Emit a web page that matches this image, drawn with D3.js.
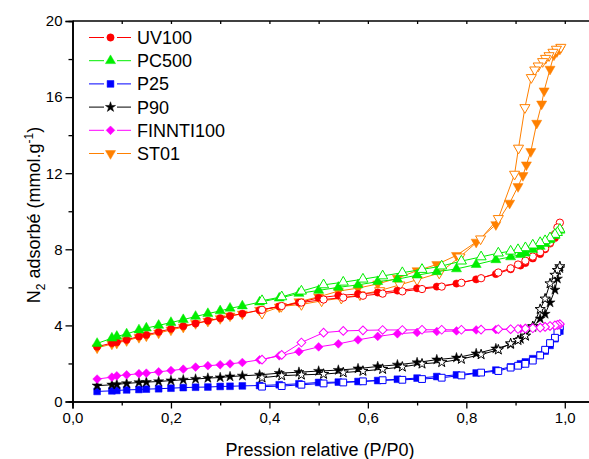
<!DOCTYPE html>
<html><head><meta charset="utf-8">
<script src="https://cdn.jsdelivr.net/npm/d3@7"></script>
<style>
html,body{margin:0;padding:0;background:#fff;}
text{font-family:"Liberation Sans",Arial,sans-serif;}
</style></head>
<body><svg id="c" width="589" height="459"></svg>
<script>
// ---- DATA ----
const seriesNames = ["UV100","PC500","P25","P90","FINNTI100","ST01"];
const seriesColors = ["#ff0000","#00ee00","#0000ff","#000000","#ff00ff","#ff8000"];
const xTickLabels = ["0,0","0,2","0,4","0,6","0,8","1,0"];
const yTickLabels = ["0","4","8","12","16","20"];

const uv100Ads = [[0.05,2.88],[0.08,3.07],[0.09,3.12],[0.11,3.24],[0.135,3.42],[0.15,3.5],[0.175,3.66],[0.2,3.82],[0.225,3.96],[0.25,4.1],[0.275,4.25],[0.3,4.38],[0.32,4.5],[0.345,4.62],[0.38,4.8],[0.42,5.0],[0.46,5.2],[0.5,5.45],[0.54,5.57],[0.58,5.65],[0.62,5.73],[0.66,5.83],[0.7,5.95],[0.74,6.04],[0.78,6.2],[0.82,6.42],[0.86,6.7],[0.89,6.95],[0.91,7.15],[0.92,7.28],[0.935,7.52],[0.95,7.75],[0.96,8.0],[0.97,8.3],[0.98,8.6],[0.99,9.0]];
const uv100Des = [[0.99,9.4],[0.985,9.15],[0.98,8.8],[0.97,8.35],[0.96,8.05],[0.95,7.85],[0.935,7.62],[0.92,7.4],[0.905,7.2],[0.89,7.0],[0.865,6.78],[0.83,6.48],[0.79,6.24],[0.75,6.04],[0.71,5.91],[0.67,5.79],[0.63,5.67],[0.59,5.56],[0.55,5.46],[0.51,5.36],[0.465,5.2],[0.425,5.02],[0.385,4.82]];

const pc500Ads = [[0.05,3.05],[0.08,3.33],[0.09,3.42],[0.11,3.55],[0.135,3.76],[0.15,3.86],[0.175,4.0],[0.2,4.15],[0.225,4.3],[0.25,4.47],[0.275,4.62],[0.3,4.76],[0.32,4.9],[0.345,5.02],[0.38,5.22],[0.42,5.43],[0.46,5.68],[0.5,5.84],[0.54,6.0],[0.58,6.13],[0.62,6.3],[0.66,6.43],[0.7,6.64],[0.74,6.82],[0.78,6.97],[0.82,7.2],[0.86,7.45],[0.89,7.6],[0.91,7.72],[0.92,7.8],[0.935,7.98],[0.95,8.15],[0.96,8.3],[0.97,8.5],[0.98,8.72],[0.99,9.0]];
const pc500Des = [[0.99,9.05],[0.985,8.88],[0.98,8.78],[0.97,8.6],[0.96,8.45],[0.95,8.35],[0.935,8.22],[0.92,8.08],[0.905,7.98],[0.89,7.9],[0.865,7.8],[0.83,7.6],[0.79,7.38],[0.75,7.12],[0.71,6.94],[0.67,6.77],[0.63,6.6],[0.59,6.43],[0.55,6.27],[0.51,6.13],[0.465,5.8],[0.425,5.5],[0.385,5.3]];

const p25Ads = [[0.05,0.53],[0.08,0.56],[0.09,0.58],[0.11,0.61],[0.135,0.63],[0.15,0.65],[0.175,0.67],[0.2,0.7],[0.225,0.73],[0.25,0.75],[0.275,0.76],[0.3,0.79],[0.32,0.8],[0.345,0.82],[0.38,0.84],[0.42,0.88],[0.46,0.93],[0.5,1.0],[0.54,1.02],[0.58,1.05],[0.62,1.1],[0.66,1.17],[0.7,1.23],[0.74,1.31],[0.78,1.4],[0.82,1.5],[0.86,1.65],[0.89,1.82],[0.91,1.98],[0.92,2.08],[0.935,2.25],[0.95,2.45],[0.96,2.65],[0.97,2.95],[0.98,3.3],[0.99,3.7]];
const p25Des = [[0.99,3.95],[0.985,3.65],[0.98,3.35],[0.97,3.07],[0.96,2.72],[0.95,2.42],[0.935,2.15],[0.92,1.98],[0.905,1.88],[0.89,1.78],[0.865,1.6],[0.83,1.52],[0.79,1.37],[0.75,1.25],[0.71,1.18],[0.67,1.14],[0.63,1.12],[0.59,1.06],[0.55,1.0],[0.51,0.95],[0.465,0.88],[0.425,0.81],[0.385,0.78]];

const p90Ads = [[0.05,0.83],[0.08,0.88],[0.09,0.9],[0.11,0.95],[0.135,1.0],[0.15,1.02],[0.175,1.05],[0.2,1.1],[0.225,1.14],[0.25,1.18],[0.275,1.23],[0.3,1.26],[0.32,1.31],[0.345,1.35],[0.38,1.4],[0.42,1.49],[0.46,1.54],[0.5,1.6],[0.54,1.65],[0.58,1.73],[0.62,1.84],[0.66,1.93],[0.7,2.05],[0.74,2.2],[0.78,2.3],[0.82,2.52],[0.86,2.78],[0.89,3.0],[0.91,3.28],[0.92,3.45],[0.935,3.9],[0.95,4.35],[0.96,4.6],[0.97,5.2],[0.98,5.87],[0.985,6.45],[0.99,7.0]];
const p90Des = [[0.99,7.1],[0.985,6.9],[0.98,6.65],[0.97,6.2],[0.96,5.4],[0.95,4.85],[0.935,3.95],[0.92,3.45],[0.905,3.22],[0.89,3.05],[0.865,2.72],[0.83,2.47],[0.79,2.23],[0.75,2.06],[0.71,1.98],[0.67,1.82],[0.63,1.7],[0.59,1.6],[0.55,1.52],[0.51,1.44],[0.465,1.4],[0.425,1.36],[0.385,1.25]];

const finntiAds = [[0.05,1.18],[0.08,1.28],[0.09,1.35],[0.11,1.4],[0.135,1.46],[0.15,1.49],[0.175,1.56],[0.2,1.63],[0.225,1.7],[0.25,1.81],[0.275,1.88],[0.3,1.93],[0.32,1.98],[0.345,2.05],[0.38,2.19],[0.42,2.4],[0.46,2.62],[0.5,2.87],[0.54,3.03],[0.58,3.24],[0.62,3.42],[0.66,3.56],[0.7,3.63],[0.74,3.68],[0.78,3.71],[0.82,3.76],[0.86,3.78],[0.89,3.8],[0.91,3.83],[0.92,3.85],[0.935,3.87],[0.95,3.9],[0.96,3.93],[0.97,3.96],[0.98,3.99],[0.99,4.03]];
const finntiDes = [[0.99,4.07],[0.985,4.03],[0.98,4.0],[0.97,3.97],[0.96,3.92],[0.95,3.88],[0.935,3.85],[0.92,3.83],[0.905,3.81],[0.89,3.8],[0.865,3.8],[0.83,3.78],[0.79,3.77],[0.75,3.77],[0.71,3.77],[0.67,3.76],[0.63,3.76],[0.59,3.74],[0.55,3.71],[0.51,3.62],[0.465,3.1],[0.425,2.45],[0.385,2.2]];

const st01Ads = [[0.05,2.82],[0.08,3.02],[0.09,3.07],[0.11,3.2],[0.135,3.37],[0.15,3.45],[0.175,3.6],[0.2,3.76],[0.225,3.91],[0.25,4.1],[0.275,4.22],[0.3,4.36],[0.32,4.5],[0.345,4.6],[0.38,4.8],[0.42,4.97],[0.46,5.25],[0.5,5.5],[0.54,5.8],[0.58,5.96],[0.62,6.18],[0.66,6.48],[0.7,6.88],[0.74,7.2],[0.78,7.68],[0.82,8.38],[0.86,9.3],[0.888,10.43],[0.905,11.3],[0.915,11.88],[0.922,12.44],[0.931,13.14],[0.943,14.63],[0.953,15.64],[0.958,16.33],[0.97,17.47],[0.978,18.22],[0.984,18.39],[0.99,18.52]];
const st01Des = [[0.992,18.62],[0.983,18.52],[0.976,18.36],[0.968,18.18],[0.961,18.04],[0.955,17.87],[0.946,17.64],[0.939,17.43],[0.932,17.03],[0.919,15.45],[0.906,13.32],[0.898,11.95],[0.865,9.62],[0.829,8.55],[0.787,7.6],[0.745,6.75],[0.7,6.4],[0.665,6.13],[0.624,5.83],[0.584,5.61],[0.546,5.43],[0.506,5.29],[0.465,5.1],[0.424,5.0],[0.385,4.64]];

const adsData = [uv100Ads, pc500Ads, p25Ads, p90Ads, finntiAds, st01Ads];
const desData = [uv100Des, pc500Des, p25Des, p90Des, finntiDes, st01Des];

// ---- CHART ----
const svg = d3.select("#c");
const x = d3.scaleLinear().domain([0,1.05]).range([72.5,589.4]);
const y = d3.scaleLinear().domain([0,20]).range([401.5,21]);

const symTypes = [d3.symbolCircle, d3.symbolTriangle, d3.symbolSquare, d3.symbolStar, d3.symbolSquare, d3.symbolTriangle];
const symSizes = [42, 44, 46, 32, 38, 44];
const symRot = [0,0,0,0,45,180];
function symPath(i){ return d3.symbol().type(symTypes[i]).size(symSizes[i])(); }

// axes
const gx = svg.append("g").attr("transform",`translate(0,${y(0)})`)
  .call(d3.axisBottom(x).tickValues([0,0.2,0.4,0.6,0.8,1.0]).tickFormat((d,i)=>xTickLabels[i]).tickSize(7).tickPadding(4));
const gxm = svg.append("g").attr("transform",`translate(0,${y(0)})`)
  .call(d3.axisBottom(x).tickValues([0.1,0.3,0.5,0.7,0.9]).tickFormat("").tickSize(4));
const gy = svg.append("g").attr("transform",`translate(${x(0)},0)`)
  .call(d3.axisLeft(y).tickValues([0,4,8,12,16,20]).tickFormat((d,i)=>yTickLabels[i]).tickSize(7).tickPadding(3));
const gym = svg.append("g").attr("transform",`translate(${x(0)},0)`)
  .call(d3.axisLeft(y).tickValues([2,6,10,14,18]).tickFormat("").tickSize(4));
const gt = svg.append("g").attr("transform",`translate(0,${y(20)})`)
  .call(d3.axisBottom(x).tickValues([0.1,0.2,0.3,0.4,0.5,0.6,0.7,0.8,0.9,1.0]).tickFormat("").tickSize(3).tickSizeOuter(0));
[gx,gxm,gy,gym,gt].forEach(g=>{
  g.selectAll(".domain").attr("stroke","#000").attr("stroke-width",1.6);
  g.selectAll(".tick line").attr("stroke","#000").attr("stroke-width",1.3);
  g.selectAll("text").attr("font-size",15).attr("font-family","Liberation Sans, Arial, sans-serif").attr("fill","#000");
});
gt.select(".domain").attr("d",`M${x(0)},0H589`);

// series
const line = d3.line().x(d=>x(d[0])).y(d=>y(d[1]));
const order = [5,0,1,2,3,4];
order.forEach(i=>{
  const g = svg.append("g");
  [adsData[i], desData[i]].forEach((data,k)=>{
    g.append("path").attr("d",line(data)).attr("fill","none").attr("stroke",seriesColors[i]).attr("stroke-width",1);
  });
  [adsData[i], desData[i]].forEach((data,k)=>{
    g.selectAll(null).data(data).enter().append("path")
      .attr("d",symPath(i))
      .attr("transform",d=>`translate(${x(d[0])},${y(d[1])}) rotate(${symRot[i]})`)
      .attr("fill",k===0?seriesColors[i]:"#fff")
      .attr("stroke",seriesColors[i]).attr("stroke-width",k===0?0.5:1);
  });
});

// legend
const lg = svg.append("g");
seriesNames.forEach((n,i)=>{
  const yy = 37.5 + i*23.2;
  lg.append("line").attr("x1",89).attr("x2",104).attr("y1",yy).attr("y2",yy).attr("stroke",seriesColors[i]).attr("stroke-width",1);
  lg.append("line").attr("x1",117).attr("x2",131).attr("y1",yy).attr("y2",yy).attr("stroke",seriesColors[i]).attr("stroke-width",1);
  lg.append("path").attr("d",symPath(i)).attr("transform",`translate(110.5,${yy}) rotate(${symRot[i]})`)
    .attr("fill",seriesColors[i]).attr("stroke",seriesColors[i]).attr("stroke-width",0.5);
  lg.append("text").attr("x",137).attr("y",yy+6.5).attr("font-size",18).attr("fill","#000").text(n);
});

// titles
svg.append("text").attr("x",320).attr("y",456).attr("text-anchor","middle").attr("font-size",18).text("Pression relative (P/P0)");
const yt = svg.append("text").attr("transform","translate(40,215) rotate(-90)").attr("text-anchor","middle").attr("font-size",18);
yt.append("tspan").text("N");
yt.append("tspan").attr("dy",5).attr("font-size",12).text("2");
yt.append("tspan").attr("dy",-5).text(" adsorbé (mmol.g");
yt.append("tspan").attr("dy",-7).attr("font-size",12).text("-1");
yt.append("tspan").attr("dy",7).text(")");
</script></body></html>
